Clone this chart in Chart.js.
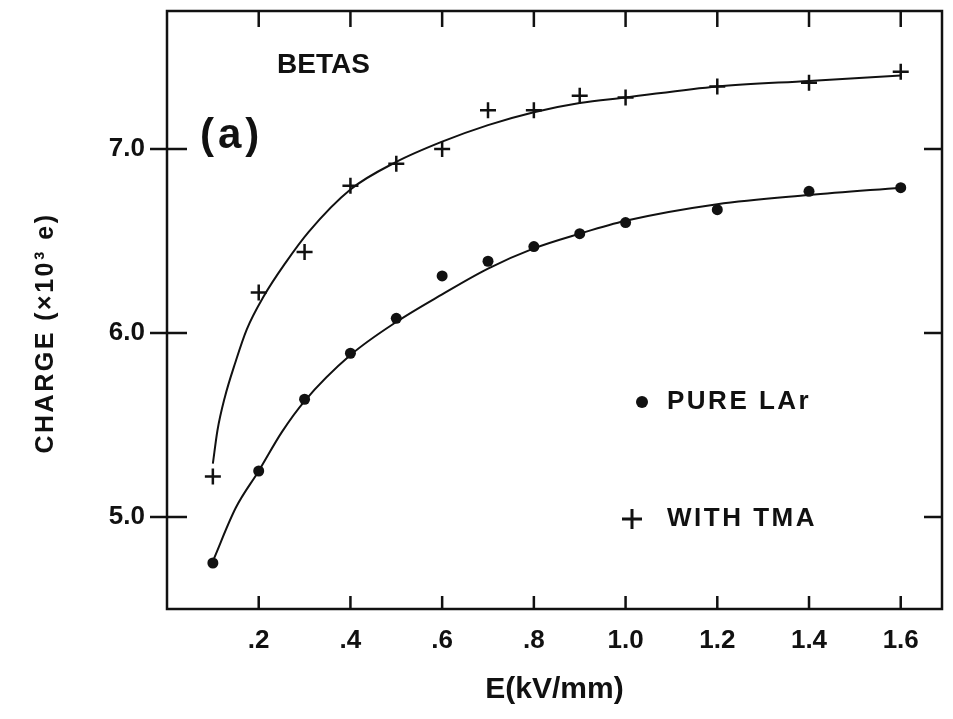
<!DOCTYPE html>
<html>
<head>
<meta charset="utf-8">
<script src="https://cdn.jsdelivr.net/npm/chart.js@4.4.1/dist/chart.umd.min.js"></script>
<style>
  html, body { margin: 0; padding: 0; background: #fff; }
  #wrap { width: 953px; height: 719px; }
</style>
</head>
<body>
<div id="wrap"><canvas id="myChart" width="953" height="719"></canvas></div>
<script>
// measured points: E in kV/mm, charge in 10^3 e
const fieldE  = [0.1, 0.2, 0.3, 0.4, 0.5, 0.6, 0.7, 0.8, 0.9, 1.0, 1.2, 1.4, 1.6];
const pureLAr = [4.75, 5.25, 5.64, 5.89, 6.08, 6.31, 6.39, 6.47, 6.54, 6.60, 6.67, 6.77, 6.79];
const withTMA = [5.22, 6.22, 6.44, 6.80, 6.92, 7.00, 7.21, 7.21, 7.29, 7.28, 7.34, 7.36, 7.42];

// the hand drawn curves
const fitTmaE  = [0.1, 0.11, 0.126, 0.149, 0.174, 0.211, 0.258, 0.309, 0.4, 0.5, 0.6, 0.7, 0.8, 0.9, 1.0, 1.2, 1.4, 1.6];
const fitTma   = [5.29, 5.47, 5.65, 5.84, 6.02, 6.20, 6.38, 6.55, 6.78, 6.93, 7.04, 7.13, 7.20, 7.25, 7.28, 7.34, 7.37, 7.40];
const fitPureE = [0.1, 0.15, 0.2, 0.25, 0.3, 0.4, 0.5, 0.6, 0.7, 0.8, 0.9, 1.0, 1.2, 1.4, 1.6];
const fitPure  = [4.76, 5.05, 5.25, 5.46, 5.63, 5.88, 6.06, 6.21, 6.35, 6.46, 6.54, 6.61, 6.70, 6.75, 6.79];

const xTicks = [0.2, 0.4, 0.6, 0.8, 1.0, 1.2, 1.4, 1.6];
const xTickLabels = ['.2', '.4', '.6', '.8', '1.0', '1.2', '1.4', '1.6'];
const yTicks = [5.0, 6.0, 7.0];

const ink = '#111';
const FONT = '"Liberation Sans", Arial, sans-serif';

function pts(xs, ys) {
  return xs.map((v, i) => ({ x: v, y: ys[i] }));
}

// box, inner tick marks and the texts printed inside the plot
const framePlugin = {
  id: 'frame',
  afterDraw(chart) {
    const { ctx, chartArea: a, scales: { x, y } } = chart;
    ctx.save();
    ctx.strokeStyle = ink;
    ctx.lineWidth = 2.5;
    ctx.strokeRect(a.left, a.top, a.right - a.left, a.bottom - a.top);
    ctx.beginPath();
    x.ticks.forEach(t => {
      const px = x.getPixelForValue(t.value);
      ctx.moveTo(px, a.bottom); ctx.lineTo(px, a.bottom - 13);
      ctx.moveTo(px, a.top); ctx.lineTo(px, a.top + 16);
    });
    y.ticks.forEach(t => {
      const py = y.getPixelForValue(t.value);
      ctx.moveTo(a.left - 17, py); ctx.lineTo(a.left + 20, py);
      ctx.moveTo(a.right - 18, py); ctx.lineTo(a.right, py);
    });
    ctx.stroke();

    ctx.fillStyle = ink;
    ctx.textBaseline = 'middle';
    ctx.textAlign = 'left';
    ctx.font = 'bold 28px ' + FONT;
    ctx.fillText('BETAS', 277, 65);
    ctx.letterSpacing = '4px';
    ctx.font = 'bold 42px ' + FONT;
    ctx.fillText('(a)', 200, 136);

    // legend
    ctx.beginPath();
    ctx.arc(642, 402, 6, 0, Math.PI * 2);
    ctx.fill();
    ctx.lineWidth = 3;
    ctx.beginPath();
    ctx.moveTo(622, 519); ctx.lineTo(642, 519);
    ctx.moveTo(632, 509); ctx.lineTo(632, 529);
    ctx.stroke();
    ctx.letterSpacing = '2.5px';
    ctx.font = 'bold 26px ' + FONT;
    ctx.fillText('PURE LAr', 667, 402);
    ctx.fillText('WITH TMA', 667, 519);

    // y axis title
    ctx.translate(46, 333);
    ctx.rotate(-Math.PI / 2);
    ctx.textAlign = 'center';
    ctx.letterSpacing = '2.5px';
    ctx.font = 'bold 25px ' + FONT;
    ctx.fillText('CHARGE (\u00d710\u00b3 e)', 0, 0);
    ctx.restore();
  }
};

const ctx = document.getElementById('myChart');
new Chart(ctx, {
  type: 'scatter',
  data: {
    datasets: [
      {
        label: 'PURE LAr',
        data: pts(fieldE, pureLAr),
        pointStyle: 'circle',
        pointRadius: 5.5,
        backgroundColor: ink,
        borderColor: ink,
        borderWidth: 0
      },
      {
        label: 'WITH TMA',
        data: pts(fieldE, withTMA),
        pointStyle: 'cross',
        pointRadius: 8,
        borderWidth: 2.5,
        borderColor: ink
      },
      {
        label: 'fit pure',
        data: pts(fitPureE, fitPure),
        showLine: true,
        pointRadius: 0,
        borderColor: ink,
        borderWidth: 2,
        cubicInterpolationMode: 'monotone'
      },
      {
        label: 'fit tma',
        data: pts(fitTmaE, fitTma),
        showLine: true,
        pointRadius: 0,
        borderColor: ink,
        borderWidth: 2,
        cubicInterpolationMode: 'monotone'
      }
    ]
  },
  options: {
    responsive: false,
    animation: false,
    layout: { padding: { left: 0, right: 11, top: 11, bottom: 0 } },
    plugins: {
      legend: { display: false },
      tooltip: { enabled: false }
    },
    scales: {
      x: {
        type: 'linear',
        min: 0,
        max: 1.69,
        afterBuildTicks: s => { s.ticks = xTicks.map(v => ({ value: v })); },
        afterFit: s => { s.height = 110; s.paddingLeft = 0; s.paddingRight = 0; },
        grid: { display: false, drawTicks: false },
        border: { display: false },
        ticks: {
          autoSkip: false,
          maxRotation: 0,
          padding: 16,
          color: ink,
          font: { family: FONT, size: 26, weight: 'bold' },
          callback: v => xTickLabels[xTicks.indexOf(v)]
        },
        title: {
          display: true,
          text: 'E(kV/mm)',
          color: ink,
          font: { family: FONT, size: 30, weight: 'bold' },
          padding: { top: 0, bottom: 11 }
        }
      },
      y: {
        min: 4.5,
        max: 7.75,
        afterBuildTicks: s => { s.ticks = yTicks.map(v => ({ value: v })); },
        afterFit: s => { s.width = 167; s.paddingTop = 0; s.paddingBottom = 0; },
        grid: { display: false, drawTicks: false },
        border: { display: false },
        ticks: {
          padding: 22,
          color: ink,
          font: { family: FONT, size: 26, weight: 'bold' },
          callback: v => v.toFixed(1)
        }
      }
    }
  },
  plugins: [framePlugin]
});
</script>
</body>
</html>
